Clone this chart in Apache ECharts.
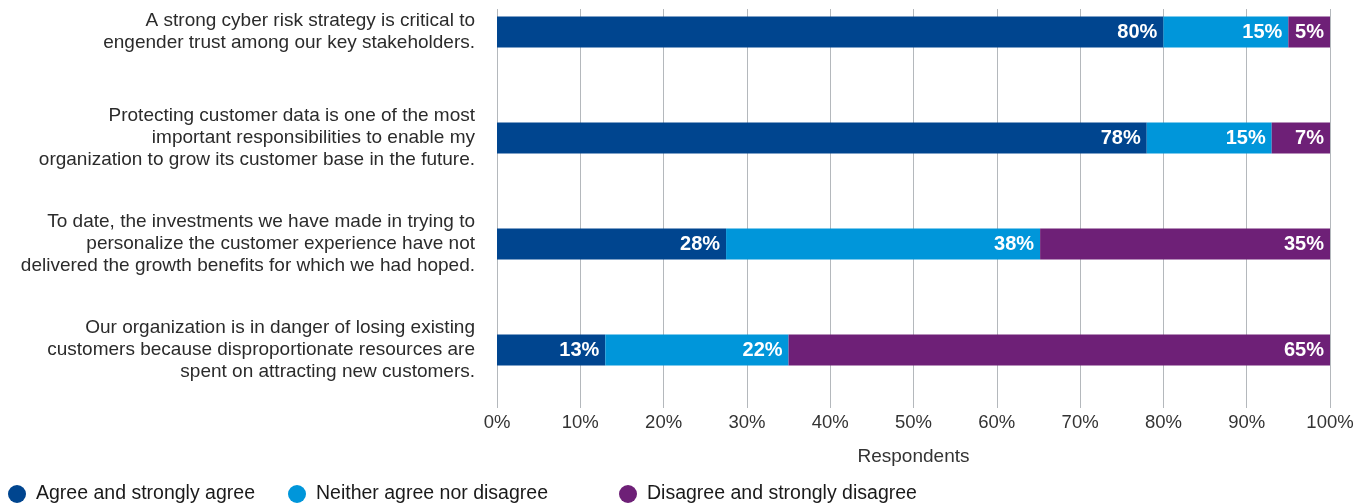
<!DOCTYPE html>
<html>
<head>
<meta charset="utf-8">
<script src="https://cdn.jsdelivr.net/npm/echarts@6/dist/echarts.min.js"></script>
<style>
  html, body { margin: 0; padding: 0; background: #ffffff; }
  #chart { width: 1357px; height: 503px; }
</style>
</head>
<body>
<div id="chart"></div>
<script>
// Survey statements (top to bottom)
const statements = [
  'A strong cyber risk strategy is critical to\nengender trust among our key stakeholders.',
  'Protecting customer data is one of the most\nimportant responsibilities to enable my\norganization to grow its customer base in the future.',
  'To date, the investments we have made in trying to\npersonalize the customer experience have not\ndelivered the growth benefits for which we had hoped.',
  'Our organization is in danger of losing existing\ncustomers because disproportionate resources are\nspent on attracting new customers.'
];

// Share of respondents (%), one array per answer group
const agree    = [80, 78, 27.5, 13];
const neutral  = [15, 15, 37.7, 22];
const disagree = [5, 7, 34.8, 65];

const seriesNames = [
  'Agree and strongly agree',
  'Neither agree nor disagree',
  'Disagree and strongly disagree'
];
const xTicks = [0, 10, 20, 30, 40, 50, 60, 70, 80, 90, 100];

const colors = ['#00458f', '#0096da', '#6e2077'];
const FONT = '"Liberation Sans", Arial, sans-serif';
const gridLine = '#b4b8bc';

const chart = echarts.init(document.getElementById('chart'), null, { renderer: 'canvas' });

function barSeries(name, data, color) {
  return {
    name: name,
    type: 'bar',
    stack: 'total',
    data: data,
    barWidth: 31,
    itemStyle: { color: color },
    label: {
      show: true,
      position: 'insideRight',
      distance: 6,
      color: '#ffffff',
      fontFamily: FONT,
      fontWeight: 'bold',
      fontSize: 20,
      formatter: p => Math.round(p.value) + '%'
    },
    emphasis: { disabled: true }
  };
}

function legendAt(left, name) {
  return {
    left: left,
    top: 484,
    padding: 0,
    data: [name],
    icon: 'circle',
    itemWidth: 18,
    itemHeight: 18,
    itemGap: 0,
    selectedMode: false,
    textStyle: { fontFamily: FONT, fontSize: 19.5, color: '#1a1a1a', padding: [0, 0, 0, 5] }
  };
}

chart.setOption({
  animation: false,
  color: colors,
  grid: {
    left: 497, right: 27, bottom: 100, height: 424,
    containLabel: false,
    outerBoundsMode: 'none'
  },
  legend: [
    legendAt(8, seriesNames[0]),
    legendAt(288, seriesNames[1]),
    legendAt(619, seriesNames[2])
  ],
  xAxis: {
    type: 'value',
    min: xTicks[0],
    max: xTicks[xTicks.length - 1],
    interval: 10,
    name: 'Respondents',
    nameLocation: 'middle',
    nameGap: 44,
    nameTextStyle: { fontFamily: FONT, fontSize: 19, color: '#333333' },
    axisLine: { show: false },
    axisTick: { show: true, length: 5, lineStyle: { color: gridLine, width: 1 } },
    axisLabel: {
      margin: 10,
      fontFamily: FONT,
      fontSize: 18.5,
      color: '#333333',
      formatter: v => v + '%'
    },
    splitLine: { show: true, lineStyle: { color: gridLine, width: 1 } }
  },
  yAxis: {
    type: 'category',
    inverse: true,
    data: statements,
    axisLine: { show: false },
    axisTick: { show: false },
    axisLabel: {
      margin: 22,
      fontFamily: FONT,
      fontSize: 19,
      lineHeight: 22,
      padding: [4, 0, 0, 0],
      color: '#2b2b2b',
      align: 'right'
    },
    splitLine: { show: false }
  },
  graphic: [{
    type: 'rect',
    left: 0,
    top: 0,
    z: 100,
    shape: { width: 1357, height: 9 },
    style: { fill: '#ffffff' },
    silent: true
  }],
  series: [
    barSeries(seriesNames[0], agree, colors[0]),
    barSeries(seriesNames[1], neutral, colors[1]),
    barSeries(seriesNames[2], disagree, colors[2])
  ]
});
</script>
</body>
</html>
